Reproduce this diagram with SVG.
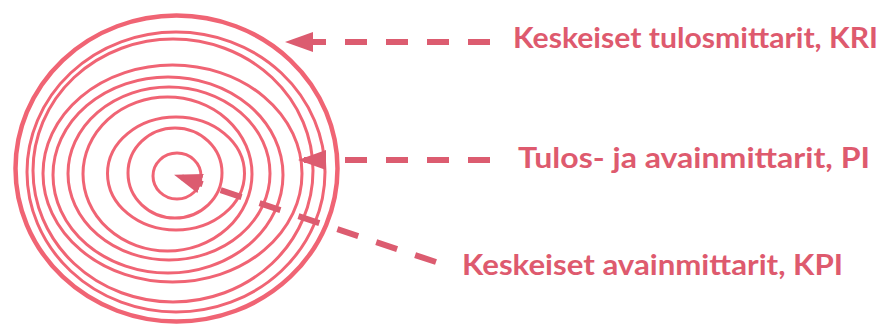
<svg xmlns="http://www.w3.org/2000/svg" width="893" height="325" viewBox="0 0 893 325">
<defs>
<style>
.ring{fill:none;stroke:#f06474;stroke-width:3}
.outer{stroke-width:4.5}
.conn{fill:none;stroke:#dc5c70;stroke-width:6;stroke-dasharray:22 19}
.lbl{font-family:Lato,"Liberation Sans",sans-serif;font-weight:700;font-size:29px;fill:#de5a6e}
</style>
<marker id="ah" viewBox="0 0 28 20" refX="27" refY="10" markerWidth="28" markerHeight="20" markerUnits="userSpaceOnUse" orient="auto">
<path d="M0,0 L28,10 L0,20 Z" fill="#dc5c70"/>
</marker>
</defs>
<g id="rings">
<ellipse class="ring outer" cx="176.5" cy="168.5" rx="161" ry="153"/>
<ellipse class="ring" cx="176" cy="172" rx="149" ry="140"/>
<ellipse class="ring" cx="173" cy="170.5" rx="140" ry="131.5"/>
<ellipse class="ring" cx="172.5" cy="173.5" rx="129.5" ry="108.5"/>
<ellipse class="ring" cx="168" cy="175" rx="115" ry="98"/>
<ellipse class="ring" cx="169" cy="173.5" rx="101" ry="86.5"/>
<ellipse class="ring" cx="167.5" cy="174" rx="84.5" ry="77"/>
<ellipse class="ring" cx="176" cy="173.5" rx="68.5" ry="56.5"/>
<ellipse class="ring" cx="175" cy="173" rx="47" ry="45"/>
<ellipse class="ring" cx="177" cy="176" rx="24" ry="23"/>
</g>
<g id="connectors">
<path class="conn" d="M490,42 L286,42" marker-end="url(#ah)"/>
<path class="conn" d="M490,160 L299,160" marker-end="url(#ah)"/>
<path class="conn" d="M436,262 L175,175" marker-end="url(#ah)"/>
</g>
<g id="kri"><text class="lbl" x="513" y="48" textLength="365" lengthAdjust="spacingAndGlyphs">Keskeiset tulosmittarit, KRI</text></g>
<g id="pi"><text class="lbl" x="518" y="168" textLength="352" lengthAdjust="spacingAndGlyphs">Tulos- ja avainmittarit, PI</text></g>
<g id="kpi"><text class="lbl" x="462" y="275" textLength="381" lengthAdjust="spacingAndGlyphs">Keskeiset avainmittarit, KPI</text></g>
</svg>
